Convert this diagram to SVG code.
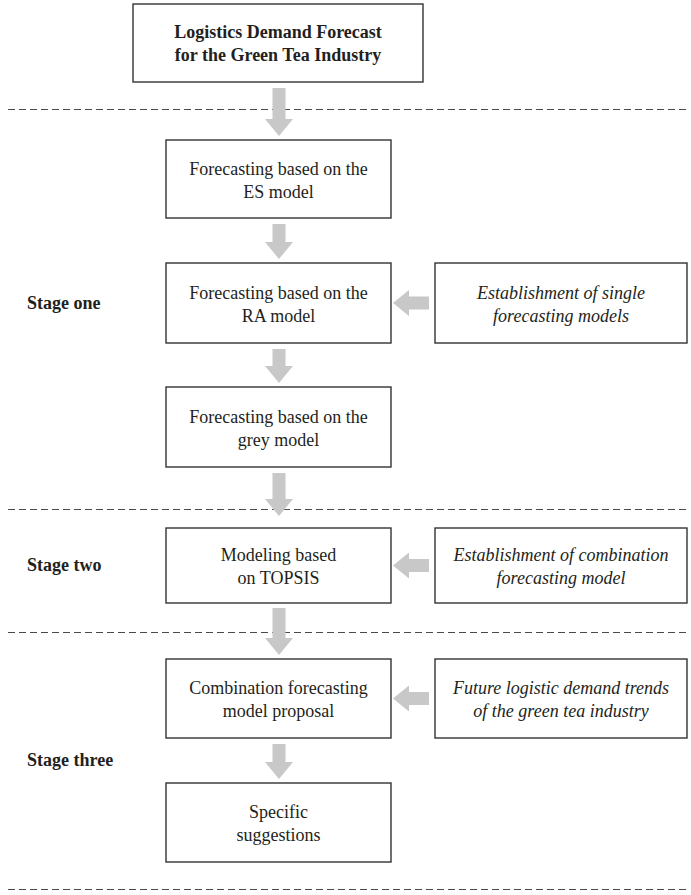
<svg xmlns="http://www.w3.org/2000/svg" width="691" height="895" viewBox="0 0 691 895">
<style>
.box{fill:#fff;stroke:#333;stroke-width:1.4}
.t{font-family:"Liberation Serif",serif;font-size:18px;fill:#231f20;text-anchor:middle}
.b{font-weight:bold}
.i{font-style:italic}
.stage{font-family:"Liberation Serif",serif;font-size:18px;font-weight:bold;fill:#231f20}
.dash{stroke:#4a4a4a;stroke-width:1;stroke-dasharray:7 4;fill:none}
.arr{fill:#c8c8c8;stroke:none}
</style>
<rect width="691" height="895" fill="#fff"/>
<g id="separators">
<line class="dash" x1="8" y1="109.5" x2="687" y2="109.5"/>
<line class="dash" x1="8" y1="509.5" x2="687" y2="509.5"/>
<line class="dash" x1="8" y1="632.5" x2="687" y2="632.5"/>
<line class="dash" x1="8" y1="889.5" x2="687" y2="889.5"/>
</g>
<g id="labels">
<text class="stage" x="27" y="309">Stage one</text>
<text class="stage" x="27" y="571">Stage two</text>
<text class="stage" x="27" y="766">Stage three</text>
</g>
<g id="connectors">
<path class="arr" d="M272.5,88 H285.5 V119 H293 L279,136 L265,119 H272.5 Z"/>
<path class="arr" d="M272.5,224 H285.5 V242 H293 L279,259 L265,242 H272.5 Z"/>
<path class="arr" d="M272.5,349 H285.5 V366 H293 L279,383 L265,366 H272.5 Z"/>
<path class="arr" d="M272.5,473 H285.5 V499 H293 L279,516 L265,499 H272.5 Z"/>
<path class="arr" d="M272.5,608 H285.5 V638 H293 L279,655 L265,638 H272.5 Z"/>
<path class="arr" d="M272.5,744 H285.5 V762 H293 L279,779 L265,762 H272.5 Z"/>
<path class="arr" d="M429,296.5 V309.5 H409 V316 L393,303 L409,290 V296.5 Z"/>
<path class="arr" d="M429,559 V572 H409 V578.5 L393,565.5 L409,552.5 V559 Z"/>
<path class="arr" d="M429,692 V705 H409 V711.5 L393,698.5 L409,685.5 V692 Z"/>
</g>
<g id="n-top">
<rect class="box" x="133" y="4" width="290" height="78"/>
<text class="t b" x="278" y="38">Logistics Demand Forecast</text>
<text class="t b" x="278" y="61">for the Green Tea Industry</text>
</g>
<g id="n-es">
<rect class="box" x="166" y="140" width="225" height="78"/>
<text class="t" x="278.5" y="175">Forecasting based on the</text>
<text class="t" x="278.5" y="198">ES model</text>
</g>
<g id="n-ra">
<rect class="box" x="166" y="263" width="225" height="80"/>
<text class="t" x="278.5" y="299">Forecasting based on the</text>
<text class="t" x="278.5" y="322">RA model</text>
</g>
<g id="n-grey">
<rect class="box" x="166" y="387" width="225" height="80"/>
<text class="t" x="278.5" y="423">Forecasting based on the</text>
<text class="t" x="278.5" y="446">grey model</text>
</g>
<g id="n-single">
<rect class="box" x="435" y="263" width="252" height="80"/>
<text class="t i" x="561" y="299">Establishment of single</text>
<text class="t i" x="561" y="322">forecasting models</text>
</g>
<g id="n-topsis">
<rect class="box" x="166" y="528" width="225" height="75"/>
<text class="t" x="278.5" y="561">Modeling based</text>
<text class="t" x="278.5" y="584">on TOPSIS</text>
</g>
<g id="n-combo-est">
<rect class="box" x="435" y="528" width="252" height="75"/>
<text class="t i" x="561" y="561">Establishment of combination</text>
<text class="t i" x="561" y="584">forecasting model</text>
</g>
<g id="n-combo">
<rect class="box" x="166" y="659" width="225" height="79"/>
<text class="t" x="278.5" y="694">Combination forecasting</text>
<text class="t" x="278.5" y="717">model proposal</text>
</g>
<g id="n-future">
<rect class="box" x="435" y="659" width="252" height="79"/>
<text class="t i" x="561" y="694">Future logistic demand trends</text>
<text class="t i" x="561" y="717">of the green tea industry</text>
</g>
<g id="n-specific">
<rect class="box" x="166" y="783" width="225" height="79"/>
<text class="t" x="278.5" y="818">Specific</text>
<text class="t" x="278.5" y="841">suggestions</text>
</g>
</svg>
